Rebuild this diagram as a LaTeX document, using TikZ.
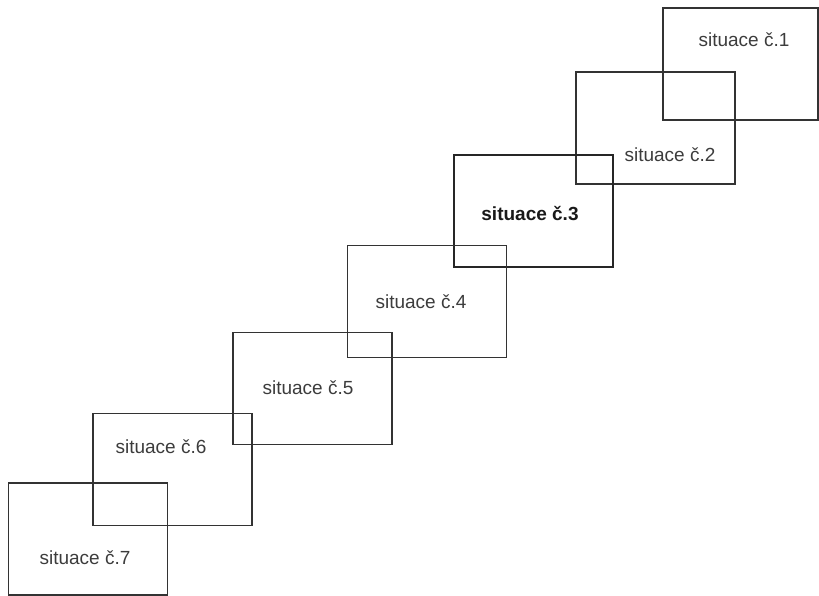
\documentclass[tikz,border=0pt]{standalone}
\usepackage{fontspec}
\setmainfont{Liberation Sans}
\definecolor{c1}{HTML}{333333}
\definecolor{c2}{HTML}{3C3C3C}
\tikzset{
  sbox/.style={draw=c1, line width=1.5pt, rectangle, inner sep=0pt,
    minimum width=159pt, minimum height=112pt},
  sthick/.style={sbox, line width=2.4pt, draw=black!85},
  stext/.style={text=c2, font=\fontsize{19}{22}\selectfont, inner sep=0pt}
}
\begin{document}
\begin{tikzpicture}[x=1pt, y=-1pt]
  \useasboundingbox (0,0) rectangle (819,596);
  % Frames
  \node[sbox, minimum width=155pt] (s1) at (740.5,64) {};
  \node[sbox] (s2) at (655.5,128) {};
  \node[sthick] (s3) at (533.5,211) {};
  \node[sbox] (s4) at (427,301.5) {};
  \node[sbox] (s5) at (312.5,388.5) {};
  \node[sbox] (s6) at (172.5,469.5) {};
  \node[sbox] (s7) at (88,539) {};
  % Labels
  \node[stext] (t1) at (744,40) {situace č.1};
  \node[stext] (t2) at (670,155) {situace č.2};
  \node[stext, font=\fontsize{19}{22}\selectfont\bfseries, text=black!90] (t3) at (530,214) {situace č.3};
  \node[stext] (t4) at (421,302) {situace č.4};
  \node[stext] (t5) at (308,388) {situace č.5};
  \node[stext] (t6) at (161,447) {situace č.6};
  \node[stext] (t7) at (85,558) {situace č.7};
\end{tikzpicture}
\end{document}
